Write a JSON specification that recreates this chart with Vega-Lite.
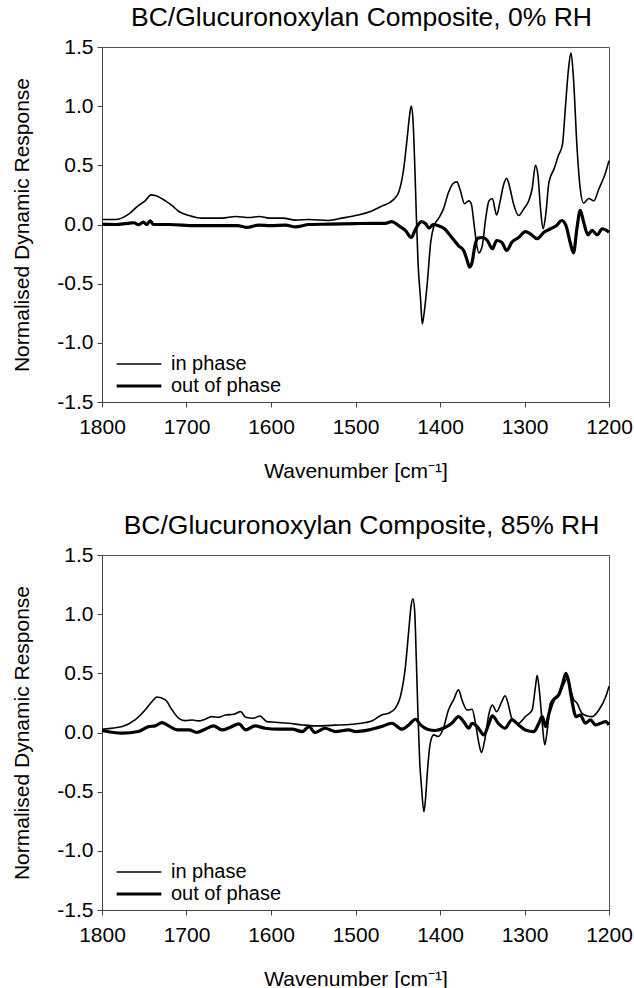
{
  "$schema": "https://vega.github.io/schema/vega-lite/v6.json",
  "padding": {"left": 11, "top": 4, "right": 4, "bottom": 0},
  "background": "white",
  "spacing": 30,
  "config": {
    "font": "Liberation Sans",
    "view": {"stroke": "#555", "strokeWidth": 1},
    "title": {"font": "Liberation Sans", "fontSize": 26.5, "fontWeight": "normal", "color": "black", "offset": 5, "dx": 6},
    "axis": {"grid": false, "domainColor": "#444", "tickColor": "#444", "tickSize": 5, "labelFont": "Liberation Sans", "labelFontSize": 21, "labelColor": "black", "titleFont": "Liberation Sans", "titleFontSize": 21, "titleFontWeight": "normal", "titleColor": "black", "labelFlush": false},
    "axisX": {"labelPadding": 9, "titlePadding": 23},
    "axisY": {"labelPadding": 4, "titlePadding": 24},
    "legend": {"orient": "none", "legendX": 27, "legendY": 307, "symbolType": "M-4,0H4", "symbolSize": 125, "symbolStrokeColor": "black", "symbolFillColor": "transparent", "labelFont": "Liberation Sans", "labelFontSize": 20, "labelColor": "black", "padding": 0, "rowPadding": 2, "labelOffset": 22}
  },
  "vconcat": [
    {
      "title": "BC/Glucuronoxylan Composite, 0% RH",
      "width": 507,
      "height": 355,
      "data": {"values": [
        {"wn":1800,"v":0.042,"s":"in phase"},{"wn":1784,"v":0.042,"s":"in phase"},{"wn":1768,"v":0.09,"s":"in phase"},{"wn":1757,"v":0.16,"s":"in phase"},{"wn":1749,"v":0.2,"s":"in phase"},{"wn":1742,"v":0.25,"s":"in phase"},{"wn":1737,"v":0.245,"s":"in phase"},{"wn":1725,"v":0.2,"s":"in phase"},{"wn":1717,"v":0.16,"s":"in phase"},{"wn":1709,"v":0.11,"s":"in phase"},{"wn":1697,"v":0.076,"s":"in phase"},{"wn":1682,"v":0.054,"s":"in phase"},{"wn":1658,"v":0.054,"s":"in phase"},{"wn":1642,"v":0.068,"s":"in phase"},{"wn":1626,"v":0.059,"s":"in phase"},{"wn":1614,"v":0.068,"s":"in phase"},{"wn":1602,"v":0.054,"s":"in phase"},{"wn":1586,"v":0.054,"s":"in phase"},{"wn":1571,"v":0.037,"s":"in phase"},{"wn":1555,"v":0.042,"s":"in phase"},{"wn":1532,"v":0.034,"s":"in phase"},{"wn":1516,"v":0.054,"s":"in phase"},{"wn":1500,"v":0.076,"s":"in phase"},{"wn":1484,"v":0.105,"s":"in phase"},{"wn":1469,"v":0.155,"s":"in phase"},{"wn":1455,"v":0.21,"s":"in phase"},{"wn":1449,"v":0.27,"s":"in phase"},{"wn":1443,"v":0.47,"s":"in phase"},{"wn":1439,"v":0.72,"s":"in phase"},{"wn":1436,"v":0.92,"s":"in phase"},{"wn":1434,"v":1.0,"s":"in phase"},{"wn":1432,"v":0.89,"s":"in phase"},{"wn":1430,"v":0.53,"s":"in phase"},{"wn":1428,"v":0.076,"s":"in phase"},{"wn":1426,"v":-0.32,"s":"in phase"},{"wn":1423,"v":-0.63,"s":"in phase"},{"wn":1421,"v":-0.84,"s":"in phase"},{"wn":1419,"v":-0.76,"s":"in phase"},{"wn":1415,"v":-0.49,"s":"in phase"},{"wn":1411,"v":-0.15,"s":"in phase"},{"wn":1407,"v":-0.008,"s":"in phase"},{"wn":1402,"v":0.048,"s":"in phase"},{"wn":1396,"v":0.13,"s":"in phase"},{"wn":1390,"v":0.27,"s":"in phase"},{"wn":1384,"v":0.35,"s":"in phase"},{"wn":1380,"v":0.36,"s":"in phase"},{"wn":1376,"v":0.29,"s":"in phase"},{"wn":1371,"v":0.175,"s":"in phase"},{"wn":1366,"v":0.2,"s":"in phase"},{"wn":1363,"v":0.175,"s":"in phase"},{"wn":1360,"v":0.02,"s":"in phase"},{"wn":1357,"v":-0.15,"s":"in phase"},{"wn":1354,"v":-0.24,"s":"in phase"},{"wn":1350,"v":-0.18,"s":"in phase"},{"wn":1346,"v":0.048,"s":"in phase"},{"wn":1342,"v":0.2,"s":"in phase"},{"wn":1338,"v":0.22,"s":"in phase"},{"wn":1335,"v":0.13,"s":"in phase"},{"wn":1333,"v":0.08,"s":"in phase"},{"wn":1329,"v":0.19,"s":"in phase"},{"wn":1325,"v":0.33,"s":"in phase"},{"wn":1321,"v":0.39,"s":"in phase"},{"wn":1317,"v":0.3,"s":"in phase"},{"wn":1313,"v":0.175,"s":"in phase"},{"wn":1307,"v":0.076,"s":"in phase"},{"wn":1301,"v":0.13,"s":"in phase"},{"wn":1295,"v":0.2,"s":"in phase"},{"wn":1291,"v":0.3,"s":"in phase"},{"wn":1287,"v":0.5,"s":"in phase"},{"wn":1284,"v":0.41,"s":"in phase"},{"wn":1281,"v":0.13,"s":"in phase"},{"wn":1278,"v":-0.036,"s":"in phase"},{"wn":1275,"v":0.076,"s":"in phase"},{"wn":1271,"v":0.36,"s":"in phase"},{"wn":1265,"v":0.47,"s":"in phase"},{"wn":1260,"v":0.58,"s":"in phase"},{"wn":1255,"v":0.68,"s":"in phase"},{"wn":1252,"v":0.95,"s":"in phase"},{"wn":1248,"v":1.31,"s":"in phase"},{"wn":1245,"v":1.45,"s":"in phase"},{"wn":1242,"v":1.23,"s":"in phase"},{"wn":1238,"v":0.67,"s":"in phase"},{"wn":1234,"v":0.3,"s":"in phase"},{"wn":1230,"v":0.18,"s":"in phase"},{"wn":1224,"v":0.22,"s":"in phase"},{"wn":1218,"v":0.2,"s":"in phase"},{"wn":1212,"v":0.3,"s":"in phase"},{"wn":1204,"v":0.44,"s":"in phase"},{"wn":1200,"v":0.54,"s":"in phase"},
        {"wn":1800,"v":0.003,"s":"out of phase"},{"wn":1784,"v":0.0,"s":"out of phase"},{"wn":1770,"v":0.01,"s":"out of phase"},{"wn":1762,"v":0.015,"s":"out of phase"},{"wn":1757,"v":-0.002,"s":"out of phase"},{"wn":1751,"v":0.02,"s":"out of phase"},{"wn":1747,"v":0.0,"s":"out of phase"},{"wn":1743,"v":0.03,"s":"out of phase"},{"wn":1739,"v":0.0,"s":"out of phase"},{"wn":1720,"v":0.0,"s":"out of phase"},{"wn":1690,"v":-0.01,"s":"out of phase"},{"wn":1660,"v":-0.01,"s":"out of phase"},{"wn":1640,"v":-0.01,"s":"out of phase"},{"wn":1628,"v":-0.025,"s":"out of phase"},{"wn":1615,"v":-0.005,"s":"out of phase"},{"wn":1600,"v":-0.01,"s":"out of phase"},{"wn":1583,"v":-0.005,"s":"out of phase"},{"wn":1571,"v":-0.02,"s":"out of phase"},{"wn":1555,"v":0.0,"s":"out of phase"},{"wn":1530,"v":0.003,"s":"out of phase"},{"wn":1500,"v":0.008,"s":"out of phase"},{"wn":1480,"v":0.01,"s":"out of phase"},{"wn":1465,"v":0.01,"s":"out of phase"},{"wn":1457,"v":0.025,"s":"out of phase"},{"wn":1449,"v":-0.01,"s":"out of phase"},{"wn":1441,"v":-0.05,"s":"out of phase"},{"wn":1434,"v":-0.11,"s":"out of phase"},{"wn":1429,"v":-0.04,"s":"out of phase"},{"wn":1422,"v":0.025,"s":"out of phase"},{"wn":1417,"v":0.006,"s":"out of phase"},{"wn":1413,"v":-0.03,"s":"out of phase"},{"wn":1408,"v":0.0,"s":"out of phase"},{"wn":1402,"v":-0.01,"s":"out of phase"},{"wn":1394,"v":-0.04,"s":"out of phase"},{"wn":1386,"v":-0.11,"s":"out of phase"},{"wn":1378,"v":-0.18,"s":"out of phase"},{"wn":1372,"v":-0.22,"s":"out of phase"},{"wn":1368,"v":-0.3,"s":"out of phase"},{"wn":1365,"v":-0.36,"s":"out of phase"},{"wn":1362,"v":-0.32,"s":"out of phase"},{"wn":1359,"v":-0.19,"s":"out of phase"},{"wn":1355,"v":-0.115,"s":"out of phase"},{"wn":1350,"v":-0.11,"s":"out of phase"},{"wn":1344,"v":-0.135,"s":"out of phase"},{"wn":1338,"v":-0.205,"s":"out of phase"},{"wn":1333,"v":-0.135,"s":"out of phase"},{"wn":1327,"v":-0.15,"s":"out of phase"},{"wn":1321,"v":-0.22,"s":"out of phase"},{"wn":1315,"v":-0.15,"s":"out of phase"},{"wn":1307,"v":-0.11,"s":"out of phase"},{"wn":1299,"v":-0.06,"s":"out of phase"},{"wn":1293,"v":-0.08,"s":"out of phase"},{"wn":1285,"v":-0.12,"s":"out of phase"},{"wn":1277,"v":-0.065,"s":"out of phase"},{"wn":1269,"v":-0.036,"s":"out of phase"},{"wn":1262,"v":-0.008,"s":"out of phase"},{"wn":1256,"v":0.034,"s":"out of phase"},{"wn":1251,"v":-0.008,"s":"out of phase"},{"wn":1246,"v":-0.15,"s":"out of phase"},{"wn":1242,"v":-0.24,"s":"out of phase"},{"wn":1238,"v":-0.036,"s":"out of phase"},{"wn":1234,"v":0.12,"s":"out of phase"},{"wn":1230,"v":0.02,"s":"out of phase"},{"wn":1225,"v":-0.087,"s":"out of phase"},{"wn":1220,"v":-0.05,"s":"out of phase"},{"wn":1214,"v":-0.087,"s":"out of phase"},{"wn":1208,"v":-0.036,"s":"out of phase"},{"wn":1200,"v":-0.065,"s":"out of phase"}
      ]},
      "mark": {"type": "line", "color": "black", "interpolate": "monotone"},
      "encoding": {
        "x": {"field": "wn", "type": "quantitative", "title": "Wavenumber [cm⁻¹]", "scale": {"domain": [1200, 1800], "reverse": true, "nice": false, "zero": false}, "axis": {"values": [1800, 1700, 1600, 1500, 1400, 1300, 1200], "format": "d"}},
        "y": {"field": "v", "type": "quantitative", "title": "Normalised Dynamic Response", "scale": {"domain": [-1.5, 1.5], "nice": false}, "axis": {"values": [-1.5, -1, -0.5, 0, 0.5, 1, 1.5], "labelExpr": "datum.value < 0 ? '-' + format(-datum.value, '.1f') : format(datum.value, '.1f')"}},
        "order": {"field": "wn", "sort": "descending"},
        "strokeWidth": {"field": "s", "type": "nominal", "scale": {"domain": ["in phase", "out of phase"], "range": [1.6, 3.2]}, "legend": {"title": null}}
      }
    },
    {
      "title": "BC/Glucuronoxylan Composite, 85% RH",
      "width": 507,
      "height": 355,
      "data": {"values": [
        {"wn":1800,"v":0.028,"s":"in phase"},{"wn":1776,"v":0.05,"s":"in phase"},{"wn":1761,"v":0.106,"s":"in phase"},{"wn":1749,"v":0.19,"s":"in phase"},{"wn":1741,"v":0.26,"s":"in phase"},{"wn":1735,"v":0.3,"s":"in phase"},{"wn":1725,"v":0.275,"s":"in phase"},{"wn":1717,"v":0.19,"s":"in phase"},{"wn":1709,"v":0.12,"s":"in phase"},{"wn":1701,"v":0.1,"s":"in phase"},{"wn":1693,"v":0.106,"s":"in phase"},{"wn":1686,"v":0.098,"s":"in phase"},{"wn":1678,"v":0.112,"s":"in phase"},{"wn":1670,"v":0.134,"s":"in phase"},{"wn":1662,"v":0.128,"s":"in phase"},{"wn":1654,"v":0.148,"s":"in phase"},{"wn":1644,"v":0.154,"s":"in phase"},{"wn":1636,"v":0.176,"s":"in phase"},{"wn":1630,"v":0.129,"s":"in phase"},{"wn":1621,"v":0.12,"s":"in phase"},{"wn":1613,"v":0.14,"s":"in phase"},{"wn":1605,"v":0.092,"s":"in phase"},{"wn":1595,"v":0.087,"s":"in phase"},{"wn":1579,"v":0.078,"s":"in phase"},{"wn":1563,"v":0.064,"s":"in phase"},{"wn":1548,"v":0.056,"s":"in phase"},{"wn":1524,"v":0.062,"s":"in phase"},{"wn":1504,"v":0.07,"s":"in phase"},{"wn":1488,"v":0.084,"s":"in phase"},{"wn":1480,"v":0.1,"s":"in phase"},{"wn":1469,"v":0.148,"s":"in phase"},{"wn":1461,"v":0.162,"s":"in phase"},{"wn":1453,"v":0.204,"s":"in phase"},{"wn":1447,"v":0.3,"s":"in phase"},{"wn":1441,"v":0.55,"s":"in phase"},{"wn":1437,"v":0.86,"s":"in phase"},{"wn":1434,"v":1.08,"s":"in phase"},{"wn":1432,"v":1.13,"s":"in phase"},{"wn":1430,"v":1.03,"s":"in phase"},{"wn":1428,"v":0.61,"s":"in phase"},{"wn":1426,"v":0.134,"s":"in phase"},{"wn":1424,"v":-0.25,"s":"in phase"},{"wn":1422,"v":-0.45,"s":"in phase"},{"wn":1419,"v":-0.67,"s":"in phase"},{"wn":1417,"v":-0.55,"s":"in phase"},{"wn":1415,"v":-0.34,"s":"in phase"},{"wn":1411.5,"v":-0.09,"s":"in phase"},{"wn":1407.5,"v":-0.02,"s":"in phase"},{"wn":1402,"v":-0.034,"s":"in phase"},{"wn":1396,"v":0.036,"s":"in phase"},{"wn":1390,"v":0.19,"s":"in phase"},{"wn":1384,"v":0.275,"s":"in phase"},{"wn":1378,"v":0.36,"s":"in phase"},{"wn":1374,"v":0.275,"s":"in phase"},{"wn":1368,"v":0.19,"s":"in phase"},{"wn":1362,"v":0.196,"s":"in phase"},{"wn":1358,"v":0.078,"s":"in phase"},{"wn":1354,"v":-0.09,"s":"in phase"},{"wn":1351,"v":-0.17,"s":"in phase"},{"wn":1347,"v":-0.062,"s":"in phase"},{"wn":1342,"v":0.162,"s":"in phase"},{"wn":1338,"v":0.233,"s":"in phase"},{"wn":1333,"v":0.176,"s":"in phase"},{"wn":1327,"v":0.26,"s":"in phase"},{"wn":1323,"v":0.31,"s":"in phase"},{"wn":1319,"v":0.233,"s":"in phase"},{"wn":1315,"v":0.12,"s":"in phase"},{"wn":1307,"v":0.078,"s":"in phase"},{"wn":1299,"v":0.134,"s":"in phase"},{"wn":1291,"v":0.19,"s":"in phase"},{"wn":1287,"v":0.39,"s":"in phase"},{"wn":1285,"v":0.484,"s":"in phase"},{"wn":1282.5,"v":0.36,"s":"in phase"},{"wn":1279,"v":0.078,"s":"in phase"},{"wn":1276,"v":-0.104,"s":"in phase"},{"wn":1273,"v":0.022,"s":"in phase"},{"wn":1269.5,"v":0.246,"s":"in phase"},{"wn":1263.5,"v":0.3,"s":"in phase"},{"wn":1258,"v":0.34,"s":"in phase"},{"wn":1254,"v":0.4,"s":"in phase"},{"wn":1250,"v":0.45,"s":"in phase"},{"wn":1246,"v":0.38,"s":"in phase"},{"wn":1242,"v":0.28,"s":"in phase"},{"wn":1238,"v":0.25,"s":"in phase"},{"wn":1232,"v":0.162,"s":"in phase"},{"wn":1226,"v":0.14,"s":"in phase"},{"wn":1220,"v":0.134,"s":"in phase"},{"wn":1212,"v":0.19,"s":"in phase"},{"wn":1204,"v":0.3,"s":"in phase"},{"wn":1200,"v":0.39,"s":"in phase"},
        {"wn":1800,"v":0.017,"s":"out of phase"},{"wn":1776,"v":-0.006,"s":"out of phase"},{"wn":1757,"v":0.008,"s":"out of phase"},{"wn":1745,"v":0.05,"s":"out of phase"},{"wn":1737,"v":0.056,"s":"out of phase"},{"wn":1729,"v":0.084,"s":"out of phase"},{"wn":1721,"v":0.056,"s":"out of phase"},{"wn":1711,"v":0.022,"s":"out of phase"},{"wn":1697,"v":0.022,"s":"out of phase"},{"wn":1688,"v":0.0,"s":"out of phase"},{"wn":1678,"v":0.028,"s":"out of phase"},{"wn":1668,"v":0.056,"s":"out of phase"},{"wn":1658,"v":0.022,"s":"out of phase"},{"wn":1648,"v":0.045,"s":"out of phase"},{"wn":1638,"v":0.073,"s":"out of phase"},{"wn":1630,"v":0.022,"s":"out of phase"},{"wn":1619,"v":0.056,"s":"out of phase"},{"wn":1607,"v":0.036,"s":"out of phase"},{"wn":1591,"v":0.028,"s":"out of phase"},{"wn":1575,"v":0.028,"s":"out of phase"},{"wn":1563,"v":0.008,"s":"out of phase"},{"wn":1555,"v":0.05,"s":"out of phase"},{"wn":1548,"v":0.0,"s":"out of phase"},{"wn":1536,"v":0.036,"s":"out of phase"},{"wn":1524,"v":0.008,"s":"out of phase"},{"wn":1508,"v":0.022,"s":"out of phase"},{"wn":1500,"v":0.008,"s":"out of phase"},{"wn":1484,"v":0.022,"s":"out of phase"},{"wn":1469,"v":0.05,"s":"out of phase"},{"wn":1457,"v":0.078,"s":"out of phase"},{"wn":1445,"v":0.028,"s":"out of phase"},{"wn":1437,"v":0.064,"s":"out of phase"},{"wn":1429,"v":0.112,"s":"out of phase"},{"wn":1423,"v":0.064,"s":"out of phase"},{"wn":1415,"v":0.028,"s":"out of phase"},{"wn":1405.5,"v":0.017,"s":"out of phase"},{"wn":1396,"v":0.036,"s":"out of phase"},{"wn":1386,"v":0.078,"s":"out of phase"},{"wn":1378,"v":0.134,"s":"out of phase"},{"wn":1372,"v":0.092,"s":"out of phase"},{"wn":1366,"v":0.036,"s":"out of phase"},{"wn":1362,"v":0.078,"s":"out of phase"},{"wn":1356,"v":0.05,"s":"out of phase"},{"wn":1348,"v":-0.02,"s":"out of phase"},{"wn":1342,"v":0.078,"s":"out of phase"},{"wn":1338,"v":0.14,"s":"out of phase"},{"wn":1331,"v":0.078,"s":"out of phase"},{"wn":1323,"v":0.036,"s":"out of phase"},{"wn":1315,"v":0.106,"s":"out of phase"},{"wn":1307,"v":0.064,"s":"out of phase"},{"wn":1299,"v":0.022,"s":"out of phase"},{"wn":1289,"v":0.008,"s":"out of phase"},{"wn":1283,"v":0.078,"s":"out of phase"},{"wn":1279,"v":0.134,"s":"out of phase"},{"wn":1275,"v":0.05,"s":"out of phase"},{"wn":1271,"v":0.162,"s":"out of phase"},{"wn":1265.5,"v":0.274,"s":"out of phase"},{"wn":1259.6,"v":0.316,"s":"out of phase"},{"wn":1255,"v":0.41,"s":"out of phase"},{"wn":1251,"v":0.5,"s":"out of phase"},{"wn":1248,"v":0.44,"s":"out of phase"},{"wn":1244,"v":0.274,"s":"out of phase"},{"wn":1239,"v":0.134,"s":"out of phase"},{"wn":1234,"v":0.148,"s":"out of phase"},{"wn":1228,"v":0.078,"s":"out of phase"},{"wn":1222,"v":0.106,"s":"out of phase"},{"wn":1216,"v":0.064,"s":"out of phase"},{"wn":1210,"v":0.078,"s":"out of phase"},{"wn":1204,"v":0.092,"s":"out of phase"},{"wn":1200,"v":0.064,"s":"out of phase"}
      ]},
      "mark": {"type": "line", "color": "black", "interpolate": "monotone"},
      "encoding": {
        "x": {"field": "wn", "type": "quantitative", "title": "Wavenumber [cm⁻¹]", "scale": {"domain": [1200, 1800], "reverse": true, "nice": false, "zero": false}, "axis": {"values": [1800, 1700, 1600, 1500, 1400, 1300, 1200], "format": "d"}},
        "y": {"field": "v", "type": "quantitative", "title": "Normalised Dynamic Response", "scale": {"domain": [-1.5, 1.5], "nice": false}, "axis": {"values": [-1.5, -1, -0.5, 0, 0.5, 1, 1.5], "labelExpr": "datum.value < 0 ? '-' + format(-datum.value, '.1f') : format(datum.value, '.1f')"}},
        "order": {"field": "wn", "sort": "descending"},
        "strokeWidth": {"field": "s", "type": "nominal", "scale": {"domain": ["in phase", "out of phase"], "range": [1.6, 3.2]}, "legend": {"title": null}}
      }
    }
  ],
  "resolve": {"scale": {"strokeWidth": "independent"}, "legend": {"strokeWidth": "independent"}}
}
